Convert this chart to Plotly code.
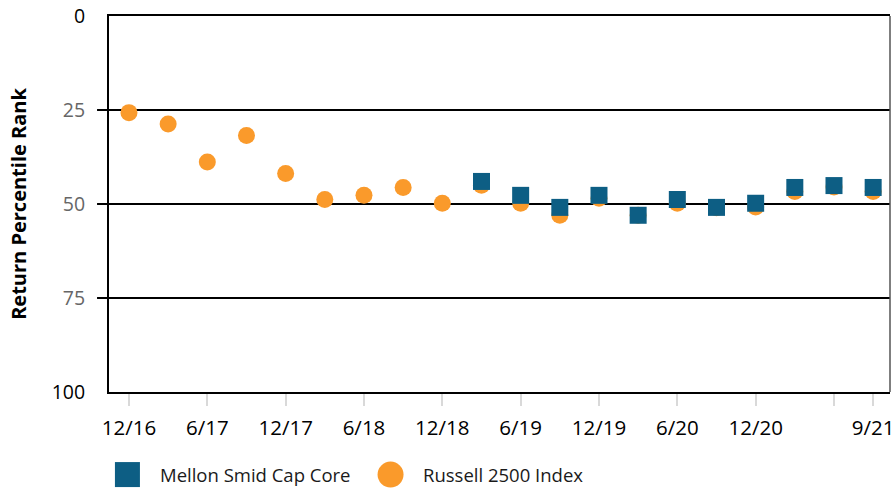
import plotly.graph_objects as go

# Quarterly return percentile ranks (lower is better)
quarters = ["12/16", "3/17", "6/17", "9/17", "12/17", "3/18", "6/18", "9/18",
            "12/18", "3/19", "6/19", "9/19", "12/19", "3/20", "6/20", "9/20",
            "12/20", "3/21", "6/21", "9/21"]
russell_2500 = [25.7, 28.7, 38.8, 31.8, 41.9, 48.8, 47.7, 45.6, 49.8, 45.0,
                49.8, 53.0, 48.5, 53.0, 49.8, 51.0, 50.8, 46.7, 45.5, 46.7]
mellon_smid = [None, None, None, None, None, None, None, None, None, 44.0,
               47.7, 50.9, 47.7, 53.0, 48.8, 50.9, 49.8, 45.6, 45.1, 45.6]
series_names = ["Mellon Smid Cap Core", "Russell 2500 Index"]

x_tick_vals = quarters[::2] + ["9/21"]
x_tick_text = [q if q != "6/21" else "" for q in x_tick_vals]
y_tick_vals = [0, 25, 50, 75, 100]
y_tick_colors = ["#000000", "#666666", "#666666", "#666666", "#000000"]
y_grid_vals = [25, 50, 75]

BLUE = "#0d5e84"
ORANGE = "#fa9a2b"
FONT = "Open Sans"

fig = go.Figure()
fig.add_trace(go.Scatter(
    x=quarters, y=russell_2500, mode="markers", name=series_names[1],
    marker=dict(symbol="circle", size=17, color=ORANGE, line=dict(width=0)),
    showlegend=False,
))
fig.add_trace(go.Scatter(
    x=quarters, y=mellon_smid, mode="markers", name=series_names[0],
    marker=dict(symbol="square", size=17, color=BLUE, line=dict(width=0)),
    showlegend=False,
))

shapes = []
# horizontal rules that also act as left tick marks
for v in y_grid_vals:
    shapes.append(dict(type="line", xref="paper", yref="y", x0=-0.0153, x1=1,
                       y0=v, y1=v, line=dict(color="#000000", width=2), layer="below"))
# right frame edge
shapes.append(dict(type="line", xref="paper", yref="paper", x0=1, x1=1, y0=0, y1=1,
                   line=dict(color="#555555", width=1.5)))

# legend swatches
shapes.append(dict(type="rect", xref="paper", yref="paper", xsizemode="pixel", ysizemode="pixel",
                   xanchor=0.0236, yanchor=-0.2196, x0=-12.5, x1=12.5, y0=-12.5, y1=12.5,
                   fillcolor=BLUE, line=dict(width=0)))
shapes.append(dict(type="circle", xref="paper", yref="paper", xsizemode="pixel", ysizemode="pixel",
                   xanchor=0.3605, yanchor=-0.2196, x0=-13, x1=13, y0=-13, y1=13,
                   fillcolor=ORANGE, line=dict(width=0)))

annotations = [
    dict(text=series_names[0], xref="paper", yref="paper", x=0.0624, y=-0.2196,
         xanchor="left", yanchor="middle", showarrow=False,
         font=dict(family=FONT, size=18.5, color="#1a1a1a")),
    dict(text=series_names[1], xref="paper", yref="paper", x=0.4000, y=-0.2196,
         xanchor="left", yanchor="middle", showarrow=False,
         font=dict(family=FONT, size=18.5, color="#1a1a1a")),
]

fig.update_layout(
    width=896, height=488,
    margin=dict(l=109, r=2, t=14, b=96),
    paper_bgcolor="white", plot_bgcolor="white",
    font=dict(family=FONT, color="#000000"),
    shapes=shapes, annotations=annotations,
    showlegend=False,
)
fig.update_xaxes(
    type="category", range=[-0.51, 19.43],
    tickmode="array", tickvals=x_tick_vals, ticktext=x_tick_text,
    ticks="outside", ticklen=12, tickwidth=2, tickcolor="#d9d9d9",
    ticklabelstandoff=4, ticklabeloverflow="allow",
    tickfont=dict(family=FONT, size=20.5, color="#000000"),
    showline=True, linecolor="#000000", linewidth=2, mirror=True,
    showgrid=False, zeroline=False,
)
fig.update_yaxes(
    range=[100, 0], tickmode="array", tickvals=y_tick_vals,
    ticktext=[f'<span style="color:{c}">{v}</span>' for v, c in zip(y_tick_vals, y_tick_colors)],
    ticks="", ticklabelstandoff=18, ticklabeloverflow="allow",
    tickfont=dict(family=FONT, size=19.5),
    showline=True, linecolor="#000000", linewidth=2,
    showgrid=False, zeroline=False,
    title=dict(text="<b>Return Percentile Rank</b>", standoff=20,
               font=dict(family=FONT, size=20, color="#000000")),
)

fig.write_html("out.html")
